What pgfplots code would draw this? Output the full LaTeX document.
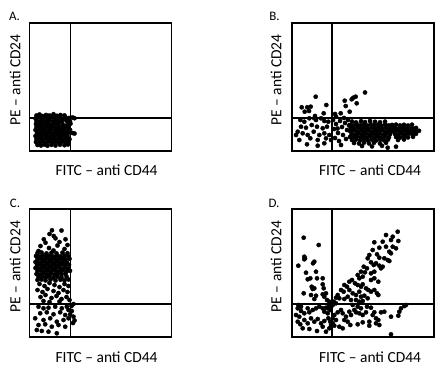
\documentclass[border=0pt]{standalone}
\usepackage{fontspec}
\setmainfont{Carlito}
\usepackage{pgfplots}
\pgfplotsset{compat=1.18}
\pgfplotsset{
  fc/.style={width=142bp,height=128bp,scale only axis,xmin=0,xmax=142,ymin=0,ymax=128,
    xtick=\empty,ytick=\empty,axis line style={line width=1.6bp},anchor=south west},
  dots/.style={only marks,mark=*,mark size=2.1bp,black,mark options={draw=black,fill=black}},
  gate/.style={black,line width=1.4bp,mark=none}
}
\newcommand{\lab}{\fontsize{15.5}{18}\selectfont}
\newcommand{\plab}{\fontsize{13}{15}\selectfont}
\begin{document}
\begin{tikzpicture}[x=1bp,y=1bp]
\useasboundingbox (0,0) rectangle (441,372);
% ---------------- A
\begin{axis}[fc,at={(29.5bp,221bp)}]
\addplot[dots] coordinates {
(7,35.5)(10,36.5)(13,35)(16.5,36)(20,35.5)(24,36.8)(27.5,35.2)(31,36)(35,35.6)
(6,32.5)(9,33.5)(12.5,32.8)(15.5,33.6)(18.5,32.4)(22,33.8)(25,32.6)(28.5,33.3)(32,32.5)(36,33.4)(39.5,33)(43,33.5)(45,32.8)
(7,30)(10.5,29.5)(13.5,30.4)(17,29.8)(20,30.6)(23.5,29.6)(27,30.3)(30,29.5)(37,30.2)(40.5,29.8)
(6.5,27)(9.5,26.5)(12.5,27.4)(15.5,26.6)(19,27.2)(22,26.4)(25.5,27.5)(28.5,26.8)(33,27)(38,26.5)(41,27.3)
(7,24)(10,24.5)(13,23.6)(16,24.4)(19.5,23.8)(23,24.6)(26,23.5)(29.5,24.3)(32.5,23.8)(35.5,24.5)(39,23.7)
(6,21)(9,21.6)(12,20.6)(15,21.4)(18.5,20.8)(21.5,21.5)(25,20.5)(28,21.3)(31,20.7)(34.5,21.4)(37.5,20.6)(40.5,21.2)
(7.5,18)(10.5,17.5)(13.5,18.4)(17,17.6)(20,18.3)(23,17.5)(26.5,18.2)(29.5,17.4)(33,18.3)(36,17.6)(39.5,18.4)(43,18)(45,17.5)
(6,15)(9,15.5)(12,14.6)(15.5,15.3)(18.5,14.5)(22,15.4)(25,14.7)(28,15.5)(31.5,14.6)(34.5,15.3)(38,14.8)
(7,12)(10,12.6)(13,11.5)(16.5,12.4)(19.5,11.6)(23,12.3)(26,11.4)(29.5,12.2)(33,11.5)(36.5,12.3)(40,11.8)
(6.5,9)(9.5,8.5)(12.5,9.4)(16,8.6)(19,9.3)(22.5,8.4)(25.5,9.2)(29,8.5)(32.5,9.3)(36,8.7)(39,9.5)
(8,6)(11.5,5.5)(15,6.4)(18,5.3)(22,6.2)(26,5.5)(30.5,6.3)(35,5.8)(38.5,6.5)
(8.5,22.5)(14,19.5)(20.5,13.5)(27,19.5)(11,28.5)(33,31)(24,10.5)(17.5,25.5)(30,22.5)(35,19.5)(11,16.5)(28.5,28.5)
};
\addplot[gate] coordinates {(41,0) (41,128)};
\addplot[gate] coordinates {(0,33) (142,33)};
\end{axis}
% ---------------- B
\begin{axis}[fc,at={(292bp,221bp)}]
\addplot[dots] coordinates {
(73,58.5)(23.7,54.3)(63.7,54.3)(61.3,53.3)(59.7,51.7)(52.7,50.3)(64.7,47.7)(53.7,45)
(18.7,44.3)(15.3,43.7)(9.7,43.7)(34.3,46)(57.7,39.3)(12.7,39.3)(17,40)(43,37)(48.7,37.7)(31.7,37.7)(23,35)
(8.3,31)(12.3,29.3)(17.3,32.7)(24,31)(29,32.7)(32.3,30)(36.3,29.3)(9,24.3)(14,23.3)(19.7,26)(25,24.3)(30.7,22.7)(35,24.3)
(4,16)(10.7,17.7)(15.7,16)(21.7,19.3)(27.3,16)(32.3,17.7)(37.3,16)(7.3,11)(18.3,12.7)(25.7,11)(34,12.7)(39,11)
(15,6.7)(25.7,5.3)(32.3,7.7)(5.7,19.3)(22.3,32.7)
(41,31)(44,27)(42,22)(46,18)(43,13)(48,30)(50,24)(47,10)(51,16)(53,28)(55,21)(52,33)(54,12)(49,6)(44,34.5)(56,31)(57,25.5)(45.5,22.5)
(60,29.5)(64,28.6)(69,29.8)(73,28.9)(78,30)(83,29.2)(88,28.7)(93,29.4)
(58,26)(61.5,25.4)(65,26.5)(68.5,25.7)(72,26.3)(75.5,25.5)(79,26.6)(82.5,25.8)(86,26.2)(89.5,25.3)(93,26.4)(96.5,25.6)(100,26.1)
(59,23)(62.5,22.5)(66,23.4)(69.5,22.6)(73,23.3)(76.5,22.4)(80,23.5)(83.5,22.7)(87,23.2)(90.5,22.3)(94,23.4)(97.5,22.8)(101,23.1)
(58,20)(61.5,20.6)(65,19.5)(68.5,20.4)(72,19.6)(75.5,20.5)(79,19.4)(82.5,20.3)(86,19.7)(89.5,20.6)(93,19.5)(96.5,20.2)(100,19.6)
(59.5,17)(63,16.5)(66.5,17.4)(70,16.6)(73.5,17.3)(77,16.4)(80.5,17.5)(84,16.7)(87.5,17.2)(91,16.3)(94.5,17.4)(98,16.8)
(58,14)(61.5,13.5)(65,14.4)(68.5,13.6)(72,14.3)(75.5,13.4)(79,14.5)(82.5,13.7)(86,14.2)(89.5,13.3)(93,14.4)(97,13.8)
(60,11)(64,11.5)(68,10.6)(72,11.4)(76,10.5)(80,11.3)(84,10.4)(88,11.2)(92,10.7)(96,11.4)
(62,8)(67,7.5)(72,8.4)(77,7.6)(82,8.3)(88,7.5)(94,8.2)
(70,5)(80,4.6)(90,5.2)(95.7,3.3)(104,4.3)
(104,26.4)(108,25.6)(112,26.2)(116,25.5)(120,26.3)
(103,23)(106.5,22.4)(110,23.3)(113.5,22.6)(117,23.2)(120.5,22.5)(124,23.1)
(102,20)(105.5,20.5)(109,19.6)(112.5,20.4)(116,19.5)(119.5,20.3)(123,19.7)(127,20.2)
(103,17)(106.5,16.5)(110,17.3)(113.5,16.6)(117,17.4)(120.5,16.7)(124,17.2)
(104,14)(108,13.4)(112,14.3)(116,13.6)(121,14.2)
(106,11)(112,11.5)
};
\addplot[gate] coordinates {(40,0) (40,128)};
\addplot[gate] coordinates {(0,33) (142,33)};
\end{axis}
% ---------------- C
\begin{axis}[fc,at={(29.5bp,35bp)}]
\addplot[dots] coordinates {
(22.5,106.7)(32,106.5)(24.3,101)(26,98.7)(36,97.7)(14.3,97.7)(16,94.3)(20,103)(30,95)(11,91)(19.5,89)(28,91.5)(35,88)(9,86)(24,86.5)(38,92)
(8,84)(12,84.5)(17,83.6)(22,84.3)(27,83.7)(33,84.4)(38,83.8)
(6.5,81)(10,80.5)(13.5,81.4)(17,80.6)(20.5,81.3)(24,80.4)(27.5,81.5)(31,80.7)(35,81.2)(39,80.5)
(8,78)(11.5,78.5)(15,77.6)(18.5,78.4)(22,77.5)(25.5,78.3)(29,77.7)(32.5,78.5)(36,77.6)(40,78.2)
(6,75)(9.5,74.5)(13,75.4)(16.5,74.6)(20,75.3)(23.5,74.4)(27,75.5)(30.5,74.7)(34,75.2)(37.5,74.5)
(7.5,72)(11,72.5)(14.5,71.6)(18,72.4)(21.5,71.5)(25,72.3)(28.5,71.7)(32,72.5)(35.5,71.6)(39.5,72.2)
(6,69)(9.5,68.5)(13,69.4)(16.5,68.6)(20,69.3)(23.5,68.4)(27,69.5)(31,68.7)(35,69.2)(38.5,68.5)
(8,66)(11.5,66.5)(15,65.6)(18.5,66.4)(22,65.5)(26,66.3)(29.5,65.7)(33,66.5)(37,65.6)(40.5,66.2)
(7,63)(10.5,62.5)(14,63.4)(17.5,62.6)(21,63.3)(25,62.4)(28.5,63.5)(32,62.7)(36,63.2)
(9,60)(13,60.5)(16.5,59.6)(20,60.4)(24,59.5)(28,60.3)(32,59.7)(37,60.5)
(8,57)(12,57.5)(16,56.6)(21,57.4)(26,56.5)(31,57.3)(35,56.7)(39,57.5)
(10,53)(15,51)(20,54)(25,52)(30,50)(35,53)(39,51)(8,47)(13,45)(18,48)(24,46)(29,44)(34,47)(38,45)
(11,40)(16,42)(22,39)(27,41)(32,38)(37,40)(14,36)(20,35)(30,35.5)(40,37)
(9,30.3)(14,28.7)(19,29.3)(25.7,30.3)(32.3,28.7)(37.3,30.3)(39,27)(42.3,26)(10.7,23.7)(17.3,24.7)(24,22.7)(30.7,24.7)(35.7,22)(40.7,22.7)
(5.7,18.7)(14,17)(20.7,18.7)(27.3,15.3)(34,17)(39,18.7)(44,20.3)(9,12)(15.7,12.7)(22.3,10.3)(29,12)(35.7,10.3)(12.3,6)(19,5.3)(27.3,3.7)(7.3,7)
(43.5,14)(45,16.5)(42,31)(44,33)
};
\addplot[gate] coordinates {(41,0) (41,128)};
\addplot[gate] coordinates {(0,33) (142,33)};
\end{axis}
% ---------------- D
\begin{axis}[fc,at={(292bp,35bp)}]
\addplot[dots] coordinates {
(11.7,99.3)(26.7,92)(12.3,80.3)(13,78.7)(12.3,77.7)(22.3,75.3)(21,73.7)(6.3,71.3)(14,64.3)(24,65.3)
(15.7,57.7)(18.3,58.7)(25,58.7)(30.7,58.7)(19.7,50.3)(22.3,48.7)(20.7,48)(30.7,52.7)(31.7,48.7)
(11.7,43.7)(19,42)(24,41.3)(30.7,42.7)(32.3,40.3)(34,43.7)(22.3,38)(35,37)(37.3,35.3)(6.3,32)(9,30.3)
(105.7,105.3)(94,102)(100.7,100.3)(99,97)(106.3,96)(82.3,94.7)(90.7,95.3)(87.3,89.3)(94,90.3)(100.7,90.3)(104,88.7)
(80.7,87)(97.3,85.3)(99,83.7)(77.3,82)(85,82.7)(87.3,79.3)(92.3,78.7)(95.7,77)(97.3,76)(75.7,78.7)
(79,74.7)(81.7,72)(84,73.7)(87.3,71.3)(89,68.7)(90.7,70.3)(71.7,70.3)(75,68.7)(69,65.3)(73,64.7)(79,63.7)(82.3,65.3)
(65.7,62)(67.3,58.7)(70.7,60.3)(79,57)(82.3,58.7)(86.3,55.3)(57.3,55.3)(60,57)(63,53.7)(65.7,52)(69,50.3)(70.7,52.7)
(74,48.7)(76.3,47)(79,45.3)(82.3,47)(85,43.7)(86.3,42)(52.3,52)(55,50.3)
(49,47)(51.7,45.3)(57.3,47)(60.7,43.7)(64,42)(67.3,45.3)(69,40.3)(72.3,41.3)
(45.7,42)(44,39.3)(47.3,38.7)(52.3,38)(55.7,40.3)(59,37)(64,37)(67.3,35.3)(70.7,36)(75.7,38.7)
(41.7,35.3)(44,33.7)(40.7,32)(37.3,31.3)(39,29.3)(35.7,28.7)(38.3,27)
(112.3,31)(114,32)(109,28.7)(107.3,25.3)(106.3,21.3)(99,20.3)(89,24.7)(92.3,25.3)
(84,18.7)(86.3,17)(84,13.7)(87.3,12)(77.3,15.3)(77.3,11.3)(67.3,23.7)(70.7,22)(74,24.7)
(62.3,27)(64,24.7)(57.3,25.3)(59,22)(54,20.3)(49,27)(50.7,23.7)(45.7,24.7)(42.3,22)(40.7,18.7)(44,17)
(52.3,17)(55.7,15.3)(58.3,12)(65.7,12.7)(70.7,14.7)(47.3,10.3)(50.7,8.7)(99,2.7)
(69,28.7)(65.7,30.3)(60.7,32)(75,30.3)(79,29.3)(80.7,22)(82.3,24.7)
(5.7,28.7)(9,26)(4,22)(7.3,20.3)(12.3,23.7)(15.7,28.7)(17.3,24.7)(20.7,27)(24,28.7)(27.3,30.3)(30.7,28.7)(32.3,25.3)(34,29.3)(35.7,23.7)
(5.7,15.3)(8.3,12.7)(12.3,17)(15.7,13.7)(19,18.7)(22.3,15.3)(25.7,18)(29,13.7)(32.3,16)(36.3,18.7)(38.3,15.3)(40.7,13.7)(39,12)(42.3,11.3)
(10.7,8.7)(17.3,8)(25,6)(30.7,10.3)(34,5.3)(37.3,8.7)
};
\addplot[gate] coordinates {(40,0) (40,128)};
\addplot[gate] coordinates {(0,33) (142,33)};
\end{axis}
% ---------------- labels
\node[font=\plab] at (14.5,356) {A.};
\node[font=\plab] at (274.5,356) {B.};
\node[font=\plab] at (15,169) {C.};
\node[font=\plab] at (274,169) {D.};
\node[font=\lab,rotate=90] at (15,292) {PE – anti CD24};
\node[font=\lab,rotate=90] at (276,292) {PE – anti CD24};
\node[font=\lab,rotate=90] at (15,105.5) {PE – anti CD24};
\node[font=\lab,rotate=90] at (276,105.5) {PE – anti CD24};
\node[font=\lab] at (106.5,202) {FITC – anti CD44};
\node[font=\lab] at (370,202) {FITC – anti CD44};
\node[font=\lab] at (106.5,15) {FITC – anti CD44};
\node[font=\lab] at (370,15) {FITC – anti CD44};
\end{tikzpicture}
\end{document}
